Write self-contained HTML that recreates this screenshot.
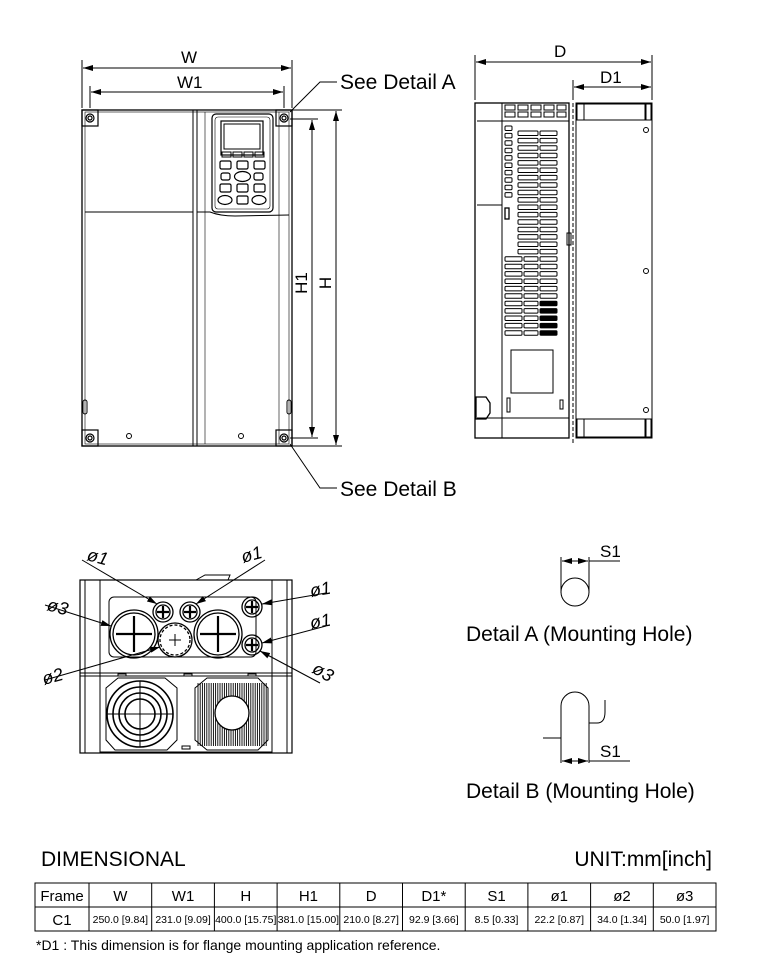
<!DOCTYPE html>
<html><head><meta charset="utf-8"><style>
html,body{margin:0;padding:0;background:#fff;}
svg{display:block;}
text{font-family:"Liberation Sans",sans-serif;fill:#000;}
</style></head><body>
<svg id="s" width="768" height="968" viewBox="0 0 768 968" xmlns="http://www.w3.org/2000/svg">
<defs>
<marker id="a" viewBox="0 0 10 6" refX="10" refY="3" markerWidth="10" markerHeight="6" orient="auto-start-reverse" markerUnits="userSpaceOnUse"><path d="M0,0 L10,3 L0,6 z" fill="#000"/></marker>
</defs>
<g stroke="#000" fill="none" stroke-width="1">
<line x1="82" y1="60" x2="82" y2="108"/><line x1="292" y1="60" x2="292" y2="108"/>
<line x1="83" y1="68" x2="291" y2="68" marker-start="url(#a)" marker-end="url(#a)"/>
<line x1="90" y1="86" x2="90" y2="108"/><line x1="284" y1="86" x2="284" y2="108"/>
<line x1="91" y1="92" x2="283" y2="92" marker-start="url(#a)" marker-end="url(#a)"/>
<line x1="292" y1="110" x2="342" y2="110"/><line x1="292" y1="446" x2="342" y2="446"/>
<line x1="290" y1="119" x2="318" y2="119"/><line x1="290" y1="438" x2="318" y2="438"/>
<line x1="336" y1="111" x2="336" y2="445" marker-start="url(#a)" marker-end="url(#a)"/>
<line x1="312" y1="120" x2="312" y2="437" marker-start="url(#a)" marker-end="url(#a)"/>
<polyline points="290,112 320,82 337,82"/>
<polyline points="290,444 320,488 337,488"/>
<rect x="82" y="110" width="210" height="336" stroke-width="1.3"/>
<rect x="85" y="112" width="204" height="332" stroke-width="0.6"/>
<line x1="193" y1="110" x2="193" y2="446"/><line x1="197" y1="110" x2="197" y2="446"/>
<line x1="205" y1="112" x2="205" y2="444" stroke-width="0.6"/>
<line x1="279" y1="112" x2="279" y2="444" stroke-width="0.6"/>
<path d="M85,212 L193,212 M197,212 L210,212 Q220,216 235,216 L289,215"/>
<g stroke-width="1.2">
<rect x="82" y="110" width="16" height="16"/><circle cx="90" cy="118" r="4"/><circle cx="90" cy="118" r="2"/>
<rect x="276" y="110" width="16" height="16"/><circle cx="284" cy="118" r="4"/><circle cx="284" cy="118" r="2"/>
<rect x="82" y="430" width="16" height="16"/><circle cx="90" cy="438" r="4"/><circle cx="90" cy="438" r="2"/>
<rect x="276" y="430" width="16" height="16"/><circle cx="284" cy="438" r="4"/><circle cx="284" cy="438" r="2"/>
</g>
<circle cx="129" cy="436" r="2.5"/><circle cx="241" cy="436" r="2.5"/>
<rect x="83" y="400" width="4" height="14" rx="2"/><rect x="287" y="400" width="4" height="14" rx="2"/>
<rect x="212" y="114" width="61" height="98" rx="4" stroke-width="1.2"/>
<rect x="215" y="117" width="55" height="92" rx="3" stroke-width="0.6"/>
<rect x="221" y="121" width="42" height="34" stroke-width="1.2"/>
<rect x="224" y="124" width="36" height="25"/>
<rect x="222" y="152" width="9" height="5"/><rect x="233" y="152" width="9" height="5"/><rect x="244" y="152" width="9" height="5"/><rect x="255" y="152" width="9" height="5"/>
<rect x="220" y="161" width="11" height="8" rx="1.5" stroke-width="1.2"/><rect x="237" y="161" width="11" height="8" rx="1.5" stroke-width="1.2"/><rect x="254" y="161" width="11" height="8" rx="1.5" stroke-width="1.2"/>
<rect x="221" y="173" width="9" height="7" rx="2" stroke-width="1.2"/><ellipse cx="242.5" cy="176.5" rx="8" ry="5" stroke-width="1.2"/><rect x="254" y="173" width="9" height="7" rx="2" stroke-width="1.2"/>
<rect x="220" y="184" width="11" height="8" rx="1.5" stroke-width="1.2"/><rect x="237" y="184" width="11" height="8" rx="1.5" stroke-width="1.2"/><rect x="254" y="184" width="11" height="8" rx="1.5" stroke-width="1.2"/>
<ellipse cx="225" cy="200" rx="7" ry="4.5" stroke-width="1.2"/><rect x="237" y="196" width="11" height="8" rx="1.5" stroke-width="1.2"/><ellipse cx="259" cy="200" rx="7" ry="4.5" stroke-width="1.2"/>

<line x1="475" y1="55" x2="475" y2="100"/><line x1="652" y1="55" x2="652" y2="100"/>
<line x1="476" y1="62" x2="651" y2="62" marker-start="url(#a)" marker-end="url(#a)"/>
<line x1="573" y1="80" x2="573" y2="100"/>
<line x1="574" y1="87" x2="651" y2="87" marker-start="url(#a)" marker-end="url(#a)"/>
<rect x="475" y="103" width="94" height="335" stroke-width="1.3"/>
<line x1="502" y1="103" x2="502" y2="438"/>
<line x1="477" y1="121" x2="569" y2="121"/><line x1="477" y1="418" x2="569" y2="418"/>
<line x1="477" y1="205" x2="502" y2="205"/>
<line x1="573" y1="103" x2="573" y2="445" stroke-dasharray="4,2"/>
<rect x="576" y="103" width="76" height="335" stroke-width="1"/>
<rect x="577" y="104" width="7" height="16"/><rect x="576" y="104" width="70" height="16"/><rect x="645" y="104" width="6" height="16"/>
<rect x="577" y="419" width="7" height="18"/><rect x="576" y="419" width="70" height="18"/><rect x="645" y="419" width="6" height="18"/>
<circle cx="646" cy="130" r="2.5"/><circle cx="646" cy="271" r="2.5"/><circle cx="646" cy="410" r="2.5"/>
<rect x="505" y="105" width="10" height="5"/><rect x="518" y="105" width="10" height="5"/><rect x="531" y="105" width="10" height="5"/><rect x="544" y="105" width="10" height="5"/><rect x="557" y="105" width="9" height="5"/>
<rect x="505" y="112" width="10" height="5"/><rect x="518" y="112" width="10" height="5"/><rect x="531" y="112" width="10" height="5"/><rect x="544" y="112" width="10" height="5"/><rect x="557" y="112" width="9" height="5"/>
<rect x="505" y="208" width="4" height="11" stroke-width="1.3"/>
<rect x="511" y="350" width="42" height="43"/>
<path d="M476,397 h10 l4,6 v10 l-4,6 h-10 z" stroke-width="1.3"/>
<rect x="507" y="398" width="3" height="14"/><rect x="560" y="400" width="3" height="9"/>
<rect x="567" y="233" width="4" height="12"/>
<g id="vents"></g>

<rect x="80" y="580" width="212" height="173" stroke-width="1.2"/>
<line x1="85" y1="580" x2="85" y2="753"/><line x1="100" y1="580" x2="100" y2="753"/><line x1="287" y1="580" x2="287" y2="753"/><line x1="272" y1="580" x2="272" y2="753"/>
<path d="M196,580 L205,575 L230,575 L228,580"/>
<rect x="109" y="597" width="147" height="60" rx="5"/>
<line x1="80" y1="673" x2="292" y2="673"/><line x1="80" y1="676" x2="292" y2="676"/>
<rect x="100" y="676" width="172" height="76"/>
<g stroke-width="1.3">
<circle cx="134" cy="634" r="24"/><circle cx="134" cy="634" r="21"/>
<circle cx="218" cy="634" r="24"/><circle cx="218" cy="634" r="21"/>
<circle cx="175" cy="640" r="17"/><circle cx="175" cy="640" r="15" stroke-dasharray="3,2"/>
<circle cx="163" cy="612" r="10"/><circle cx="163" cy="612" r="7"/>
<circle cx="190" cy="612" r="10"/><circle cx="190" cy="612" r="7"/>
<circle cx="252" cy="607" r="10"/><circle cx="252" cy="607" r="7"/>
<circle cx="252" cy="645" r="10"/><circle cx="252" cy="645" r="7"/>
</g>
<g stroke-width="2.2">
<path d="M134,616 v36 M116,634 h36 M218,616 v36 M200,634 h36 M163,606 v12 M157,612 h12 M190,606 v12 M184,612 h12 M252,601 v12 M246,607 h12 M252,639 v12 M246,645 h12"/>
</g>
<path d="M175,634 v12 M169,640 h12"/>
<line x1="82" y1="560" x2="157" y2="604" marker-end="url(#a)"/>
<line x1="265" y1="560" x2="196" y2="604" marker-end="url(#a)"/>
<line x1="326" y1="593" x2="262" y2="604" marker-end="url(#a)"/>
<line x1="326" y1="626" x2="262" y2="643" marker-end="url(#a)"/>
<line x1="45" y1="605" x2="111" y2="626" marker-end="url(#a)"/>
<line x1="45" y1="680" x2="160" y2="647" marker-end="url(#a)"/>
<line x1="320" y1="683" x2="260" y2="651" marker-end="url(#a)"/>
<path d="M106,688 L118,678 L165,678 L177,688 L177,740 L167,750 L115,750 L106,740 Z"/>
<path d="M195,688 L207,678 L258,678 L268,688 L268,740 L258,750 L207,750 L195,740 Z"/>
<g stroke-width="1.6">
<circle cx="140" cy="714" r="33"/><circle cx="140" cy="714" r="27"/><circle cx="140" cy="714" r="21"/><circle cx="140" cy="714" r="15"/>
</g>
<line x1="140" y1="681" x2="140" y2="747"/><line x1="107" y1="714" x2="173" y2="714"/>
<g id="hatch" stroke-width="0.9"></g>
<circle cx="232" cy="713" r="17" fill="#fff" stroke-width="1.3"/>
<rect x="182" y="746" width="8" height="3"/>
<rect x="118" y="674" width="8" height="2"/><rect x="184" y="674" width="8" height="2"/><rect x="248" y="674" width="8" height="2"/>

<line x1="561" y1="557" x2="561" y2="593"/><line x1="589" y1="557" x2="589" y2="593"/>
<line x1="562" y1="561" x2="588" y2="561" marker-start="url(#a)" marker-end="url(#a)"/>
<line x1="589" y1="561" x2="620" y2="561"/>
<circle cx="575" cy="592" r="14"/>
<path d="M561,763 V706 A14,14 0 0 1 589,706 V763"/>
<path d="M543,738 H561 M589,723 H597 Q605,723 605,712 V700"/>
<line x1="562" y1="761" x2="588" y2="761" marker-start="url(#a)" marker-end="url(#a)"/>
<line x1="589" y1="761" x2="630" y2="761"/>

<rect x="35" y="883" width="681" height="48"/>
<line x1="35" y1="907" x2="716" y2="907"/>
<g id="cols"></g>
</g>

<g font-size="17">
<text x="181" y="63">W</text>
<text x="177" y="88">W1</text>
<text x="554" y="57">D</text>
<text x="600" y="83">D1</text>
<text transform="translate(331,283) rotate(-90)" text-anchor="middle">H</text>
<text transform="translate(307,283) rotate(-90)" text-anchor="middle">H1</text>
<text x="600" y="557">S1</text>
<text x="600" y="757">S1</text>
</g>
<g font-size="21">
<text x="340" y="89">See Detail A</text>
<text x="340" y="496">See Detail B</text>
<text x="466" y="641">Detail A (Mounting Hole)</text>
<text x="466" y="798">Detail B (Mounting Hole)</text>
<text x="41" y="866">DIMENSIONAL</text>
<text x="712" y="866" text-anchor="end">UNIT:mm[inch]</text>
</g>
<g font-size="18" font-style="italic">
<text x="86" y="560" transform="rotate(15 86 560)">ø1</text>
<text x="243" y="563" transform="rotate(-15 243 563)">ø1</text>
<text x="311" y="597" transform="rotate(-10 311 597)">ø1</text>
<text x="311" y="629" transform="rotate(-10 311 629)">ø1</text>
<text x="46" y="610" transform="rotate(15 46 610)">ø3</text>
<text x="44" y="685" transform="rotate(-15 44 685)">ø2</text>
<text x="311" y="672" transform="rotate(30 311 672)">ø3</text>
</g>
<g font-size="15" text-anchor="middle" id="th">
<text x="62" y="901">Frame</text>
<text x="62" y="925">C1</text>
</g>
<text x="36" y="950" font-size="14">*D1 : This dimension is for flange mounting application reference.</text>
</svg>
<script>
var NS="http://www.w3.org/2000/svg";
function el(p,t,a,txt){var e=document.createElementNS(NS,t);for(var k in a)e.setAttribute(k,a[k]);if(txt)e.textContent=txt;p.appendChild(e);return e;}
var v=document.getElementById("vents");
for(var i=0;i<10;i++){el(v,"rect",{x:505,y:126+i*7.4,width:7,height:4.5,rx:1});}
for(var i=0;i<28;i++){var y=131+i*7.4;
 if(i<17){el(v,"rect",{x:518,y:y,width:20,height:4.5,rx:1});el(v,"rect",{x:540,y:y,width:17,height:4.5,rx:1});}
 else{el(v,"rect",{x:505,y:y,width:17,height:4.5,rx:1});el(v,"rect",{x:524,y:y,width:14,height:4.5,rx:1});el(v,"rect",{x:540,y:y,width:17,height:4.5,rx:1,fill:i>22?"#000":"none"});}
}
var h=document.getElementById("hatch");
for(var x=198;x<267;x+=2.2){el(h,"line",{x1:x,y1:683,x2:x,y2:746});}
var c=document.getElementById("cols"),th=document.getElementById("th");
var b=[35,89,151.7,214.4,277.1,339.8,402.5,465.2,527.9,590.6,653.3,716];
var hd=["W","W1","H","H1","D","D1*","S1","ø1","ø2","ø3"];
var dv=["250.0 [9.84]","231.0 [9.09]","400.0 [15.75]","381.0 [15.00]","210.0 [8.27]","92.9 [3.66]","8.5 [0.33]","22.2 [0.87]","34.0 [1.34]","50.0 [1.97]"];
for(var i=1;i<b.length-1;i++)el(c,"line",{x1:b[i],y1:883,x2:b[i],y2:931});
for(var i=0;i<10;i++){var cx=(b[i+1]+b[i+2])/2;el(th,"text",{x:cx,y:901},hd[i]);el(th,"text",{x:cx,y:923,"font-size":"10.5"},dv[i]);}
</script>
</body></html>
